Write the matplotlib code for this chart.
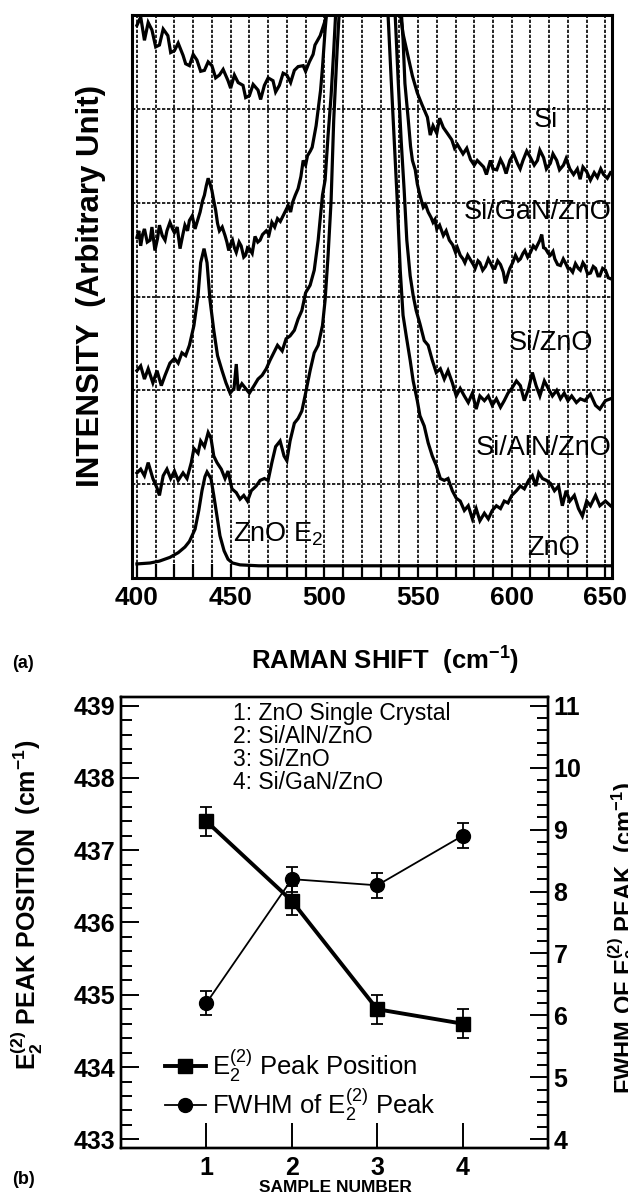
import numpy as np
import matplotlib
matplotlib.use('Agg')
import matplotlib.pyplot as plt
from matplotlib.ticker import MultipleLocator
from matplotlib.lines import Line2D

plt.rcParams['font.family'] = ['Liberation Sans', 'DejaVu Sans']
plt.rcParams['mathtext.fontset'] = 'custom'
plt.rcParams['mathtext.rm'] = 'Liberation Sans'
plt.rcParams['mathtext.it'] = 'Liberation Sans:italic'
plt.rcParams['mathtext.bf'] = 'Liberation Sans:bold'
plt.rcParams['mathtext.default'] = 'regular'

# ---------------- (a) Raman spectra ----------------
si_x = [400, 402, 404, 406, 408, 410, 412, 414, 416.5, 418, 420, 422, 424.6, 426, 428, 430,
        432, 434, 436, 438, 440, 442, 444, 446, 448.6, 450, 452, 454, 456.6, 458, 460, 462,
        464.6, 466, 468, 470, 472.6, 474, 476, 478, 480, 482, 484, 486, 488.7, 490, 492, 494,
        495, 497.8, 500.4, 502, 510, 520, 530, 537, 540.5, 542, 544, 547, 549.6, 552, 555,
        556.5, 558, 560, 561.5, 563.5, 565.6, 568, 569.5, 571, 574, 576, 578, 580, 581.6, 585,
        586.5, 588.6, 590, 592, 594, 595.5, 597, 599, 601, 603, 604.5, 606, 608, 610, 612,
        613.7, 615, 617, 618.5, 620.6, 622, 624, 625.5, 627.6, 629, 631, 633, 635, 636.5, 638,
        640, 642, 644, 645.7, 647.5, 649, 651, 652.7]
si_y = [5.89, 5.98, 5.73, 5.92, 5.84, 5.66, 5.68, 5.85, 5.78, 5.60, 5.62, 5.70, 5.57, 5.48, 5.46, 5.58,
        5.52, 5.40, 5.41, 5.50, 5.46, 5.33, 5.36, 5.42, 5.30, 5.22, 5.36, 5.28, 5.25, 5.12, 5.14, 5.26,
        5.20, 5.10, 5.25, 5.33, 5.30, 5.18, 5.25, 5.38, 5.36, 5.28, 5.41, 5.45, 5.46, 5.40, 5.50, 5.58,
        5.68, 5.78, 5.94, 6.10, 7.50, 9.00, 7.50, 6.50, 6.02, 5.80, 5.62, 5.35, 5.17, 5.05, 4.91,
        4.72, 4.82, 4.74, 4.90, 4.80, 4.74, 4.67, 4.58, 4.62, 4.52, 4.58, 4.46, 4.40, 4.45, 4.38,
        4.30, 4.45, 4.36, 4.35, 4.46, 4.40, 4.31, 4.45, 4.52, 4.42, 4.36, 4.45, 4.55, 4.48, 4.40,
        4.45, 4.56, 4.48, 4.36, 4.42, 4.52, 4.45, 4.35, 4.40, 4.47, 4.36, 4.30, 4.36, 4.25, 4.38,
        4.33, 4.24, 4.32, 4.27, 4.36, 4.30, 4.26, 4.32]

gan_x = [400, 401, 402, 403, 404, 405.5, 407, 408, 409.6, 411, 412, 413.5, 415, 416, 417.6, 419,
         420, 421.5, 423, 424.5, 425.6, 427, 428, 429.5, 431, 432.5, 433.7, 435, 436, 437, 438,
         439, 440, 441, 442, 443, 444, 445.5, 447, 448, 449, 450, 451, 452, 453, 454.5, 455.6,
         457, 458, 459, 460, 461.5, 463, 464.5, 465.7, 467, 469, 470.5, 472, 473.5, 475, 476.5,
         478, 479.5, 480.7, 482, 483, 484.5, 486, 487.5, 488.7, 490, 491, 492.5, 493.5, 494.5,
         495.6, 497, 498, 499, 500.4, 502, 510, 520, 530, 538, 541, 542, 543, 544.8, 546, 547,
         548.5, 549.6, 551, 552.8, 554, 555.4, 557, 558, 559, 560, 561.5, 563.5, 565, 566.7,
         568.5, 570, 571, 572.5, 574, 575, 576.5, 578, 579.5, 580.5, 582, 583, 584.5, 586,
         587.5, 588.6, 590, 591, 592.5, 594, 595.5, 596.6, 598, 599, 600.5, 602, 603.5, 604.6,
         606, 607, 608.5, 610, 611.5, 612.8, 614, 615, 616, 617, 618, 619.5, 620.6, 622, 623,
         624.5, 626, 627.5, 628.6, 630, 631, 632.5, 634, 635.5, 636.6, 638, 639, 640.5, 642,
         643.5, 644.7, 646, 647, 648.5, 650, 651.5, 652.7]
gan_y = [3.63, 3.70, 3.54, 3.66, 3.72, 3.58, 3.60, 3.74, 3.49, 3.62, 3.76, 3.65, 3.60, 3.70, 3.79, 3.72,
         3.68, 3.74, 3.51, 3.66, 3.76, 3.70, 3.81, 3.86, 3.72, 3.82, 3.90, 4.02, 4.08, 4.18, 4.26,
         4.20, 4.13, 4.02, 3.92, 3.78, 3.70, 3.74, 3.65, 3.58, 3.49, 3.56, 3.60, 3.52, 3.47, 3.58, 3.54,
         3.42, 3.44, 3.52, 3.51, 3.46, 3.64, 3.58, 3.60, 3.66, 3.70, 3.66, 3.79, 3.74, 3.83, 3.80,
         3.86, 3.92, 3.97, 3.90, 4.00, 4.08, 4.15, 4.28, 4.45, 4.40, 4.50, 4.55, 4.59, 4.70,
         4.82, 5.04, 5.20, 5.44, 5.84, 6.20, 7.20, 8.50, 7.00, 6.30, 6.05, 5.74, 5.27, 4.88, 4.60, 4.45,
         4.35, 4.20, 4.08, 3.95, 3.98, 3.90, 3.84, 3.79, 3.82, 3.72, 3.76, 3.65, 3.70, 3.60,
         3.55, 3.47, 3.52, 3.44, 3.40, 3.36, 3.44, 3.39, 3.34, 3.30, 3.38, 3.36, 3.28, 3.32,
         3.40, 3.36, 3.30, 3.30, 3.38, 3.34, 3.26, 3.14, 3.24, 3.30, 3.36, 3.44, 3.38, 3.40,
         3.46, 3.49, 3.42, 3.47, 3.54, 3.51, 3.56, 3.60, 3.66, 3.52, 3.51, 3.46, 3.44, 3.48, 3.40,
         3.34, 3.33, 3.40, 3.36, 3.30, 3.30, 3.26, 3.35, 3.30, 3.28, 3.36, 3.33, 3.24, 3.25,
         3.32, 3.30, 3.22, 3.22, 3.30, 3.28, 3.20, 3.19]

zno_film_x = [400, 402, 404, 406, 408.5, 410.7, 413, 415, 417.6, 420, 422, 424, 426, 428, 430.4,
              432.6, 434, 435.8, 437.4, 439, 441, 443, 445.4, 447.5, 449.7, 451.8, 453, 454, 456,
              458, 460, 462.5, 464.6, 466.8, 469, 471, 473, 475, 477.5, 479.6, 481.7, 484, 486,
              488, 490, 492.4, 494.6, 496.7, 499, 500.4, 502, 503.6, 505, 506, 510, 520, 530,
              537.8, 539.4, 541, 542.6, 544, 545.8, 547.4, 549, 551, 553.3, 555.4, 557.6, 559.7,
              561.9, 564, 566, 568.3, 570.4, 572.5, 574.7, 576.8, 579, 581, 583, 585.4, 587.5,
              589.6, 591.8, 594, 596, 598, 600, 602.5, 604.6, 606.7, 609, 611, 613, 615, 617.4,
              619.5, 621.7, 624, 626, 628, 630, 632, 634.5, 636.6, 639, 642, 644.7, 647, 650, 652.7]
zno_film_y = [2.21, 2.26, 2.12, 2.23, 2.08, 2.21, 2.05, 2.16, 2.29, 2.34, 2.29, 2.40, 2.37, 2.48, 2.69,
              3.01, 3.36, 3.51, 3.36, 2.96, 2.64, 2.37, 2.21, 2.08, 1.97, 2.02, 2.28, 2.00, 2.07,
              2.02, 1.97, 2.05, 2.12, 2.16, 2.23, 2.32, 2.40, 2.48, 2.42, 2.55, 2.58, 2.64, 2.76,
              2.85, 3.04, 3.12, 3.28, 3.60, 4.08, 4.24, 4.72, 5.14, 5.62, 6.00, 7.00, 8.50, 7.00,
              6.00, 5.30, 4.66, 4.13, 3.60, 3.22, 3.01, 2.85, 2.71, 2.53, 2.48, 2.32, 2.19,
              2.23, 2.12, 2.21, 2.08, 1.94, 2.02, 1.94, 1.87, 1.97, 1.80, 1.94, 1.89, 1.94,
              1.84, 1.91, 1.82, 1.89, 1.97, 2.02, 2.10, 2.05, 1.89, 2.02, 2.19, 2.05, 1.94, 2.10,
              2.02, 1.94, 2.00, 1.91, 1.97, 1.89, 1.94, 1.87, 1.91, 1.89, 1.96, 1.84, 1.80, 1.89, 1.91]

aln_x = [400, 402, 404, 406, 408.5, 410.7, 412, 414, 416, 418, 420, 422, 424.6, 426.7, 429, 430.4,
         432.6, 434, 436, 438, 439.5, 441, 442.7, 445, 447, 448.6, 450.7, 453, 455, 457, 459,
         461, 463.6, 465.7, 468, 470, 472, 474, 476.4, 478.5, 480, 481.7, 484, 486, 488, 490,
         492.4, 494.6, 496.7, 499, 500.4, 502, 503.6, 505, 506.8, 508, 515, 520, 528, 534,
         535.7, 537.3, 538.9, 540.5, 542, 543.7, 545.8, 547.4, 549.6, 551, 553.3, 555.4, 557.6,
         559.7, 561.9, 564, 566, 568.3, 570.4, 572.5, 574.7, 576.8, 579, 581, 583, 585.4,
         587.5, 589.6, 591.8, 594, 596, 598, 600, 602.5, 604.6, 606.7, 609, 611, 612.8, 614.4,
         616.4, 618.5, 620.6, 622.8, 625, 627, 629, 631, 633.4, 635.6, 637.7, 640, 642, 644.7,
         647, 650, 652.7]
aln_y = [1.12, 1.16, 1.09, 1.23, 1.06, 0.96, 0.88, 1.09, 1.16, 1.06, 1.14, 1.04, 1.12, 1.06, 1.23, 1.38,
         1.33, 1.46, 1.40, 1.55, 1.49, 1.30, 1.23, 1.16, 1.06, 1.14, 0.95, 0.91, 0.84, 0.88, 0.82,
         0.93, 0.98, 1.04, 1.06, 1.04, 1.23, 1.40, 1.46, 1.30, 1.25, 1.46, 1.65, 1.70, 1.78, 1.97,
         2.21, 2.40, 2.48, 2.69, 2.96, 3.44, 4.02, 4.88, 5.62, 6.05, 7.50, 8.00, 7.50, 6.00,
         5.30, 4.66, 4.02, 3.28, 2.80, 2.58, 2.32, 2.10, 1.89, 1.73, 1.62, 1.44, 1.30,
         1.20, 1.06, 1.04, 1.06, 0.93, 0.85, 0.82, 0.72, 0.77, 0.63, 0.74, 0.61, 0.69,
         0.63, 0.72, 0.77, 0.74, 0.82, 0.80, 0.88, 0.93, 0.98, 0.95, 1.04, 1.09, 0.98, 1.12,
         1.06, 1.04, 1.01, 0.93, 0.98, 0.77, 0.93, 0.82, 0.88, 0.74, 0.66, 0.82, 0.77, 0.88,
         0.77, 0.82, 0.77]

zno_x = [400, 407, 412, 417.6, 422, 425.6, 428, 431, 433, 434.7, 436.3, 437.4, 439.5, 441, 442.7,
         444.3, 446.5, 448.6, 451, 455, 465, 500, 560, 620, 652.7]
zno_y = [0.15, 0.16, 0.18, 0.22, 0.27, 0.33, 0.39, 0.52, 0.72, 0.93, 1.08, 1.13, 1.06, 0.88, 0.66,
         0.45, 0.29, 0.20, 0.16, 0.14, 0.13, 0.13, 0.13, 0.13, 0.13]

spectra = [(si_x, si_y), (gan_x, gan_y), (zno_film_x, zno_film_y), (aln_x, aln_y), (zno_x, zno_y)]
spec_labels = ['Si', 'Si/GaN/ZnO', 'Si/ZnO', 'Si/AlN/ZnO', 'ZnO']
label_pos = [(618, 4.88), (614, 3.90), (621, 2.50), (617, 1.39), (622, 0.32)]

# ---------------- (b) E2 peak position and FWHM ----------------
samples = [1, 2, 3, 4]
peak_pos = [437.4, 436.3, 434.8, 434.6]
peak_err = [0.2, 0.2, 0.2, 0.2]
fwhm = [6.2, 8.2, 8.1, 8.9]
fwhm_err = [0.2, 0.2, 0.2, 0.2]
sample_names = ['1: ZnO Single Crystal', '2: Si/AlN/ZnO', '3: Si/ZnO', '4: Si/GaN/ZnO']

W, H = 628, 1202
fig = plt.figure(figsize=(W / 100, H / 100), dpi=100)

# ===== panel (a) =====
ax = fig.add_axes([131.7 / W, 1 - 578 / H, (612 - 131.7) / W, (578 - 15) / H])
for (xs, ys) in spectra:
    ax.plot(xs, ys, color='black', lw=2.3, solid_joinstyle='miter')
for name, (lx, ly) in zip(spec_labels, label_pos):
    ax.text(lx, ly, name, fontsize=19.5, ha='center', va='center')
ax.text(451, 0.47, 'ZnO E$_2$', fontsize=19.5, ha='left', va='center')

ax.set_xlim(397.2, 653.5)
ax.set_ylim(0, 6)
ax.set_xticks(np.arange(400, 651, 50))
ax.xaxis.set_minor_locator(MultipleLocator(10))
ax.set_yticks(np.arange(1, 6))
ax.tick_params(axis='y', length=0, labelleft=False)
ax.tick_params(axis='x', which='major', direction='in', length=10, width=1.6,
               labelsize=19, pad=6)
ax.tick_params(axis='x', which='minor', direction='in', length=10, width=1.6)
for t in ax.get_xticklabels():
    t.set_fontweight('bold')
ax.grid(True, which='both', axis='x', color='black', lw=1.2, ls=(0, (2, 1)))
ax.grid(True, which='major', axis='y', color='black', lw=1.2, ls=(0, (2, 1)))
for s in ax.spines.values():
    s.set_linewidth(2.2)

fig.text(385 / W, 1 - 661 / H, r'RAMAN SHIFT  (cm$^{\mathbf{-1}}$)', fontsize=18.5,
         fontweight='bold', ha='center', va='center')
fig.text(12 / W, 1 - 664 / H, '(a)', fontsize=13, fontweight='bold', va='center')
fig.text(91 / W, 1 - 286 / H, 'INTENSITY  (Arbitrary Unit)', fontsize=22.5,
         fontweight='bold', rotation=90, ha='center', va='center')

# ===== panel (b) =====
bx = fig.add_axes([121 / W, 1 - 1148 / H, (548 - 121) / W, (1148 - 697) / H])
tx = bx.twinx()

bx.plot(samples, peak_pos, color='black', lw=2.8, marker='s', ms=10)
bx.errorbar(samples, peak_pos, yerr=peak_err, fmt='none', ecolor='black',
            elinewidth=1.3, capsize=4, capthick=1.3)
tx.plot(samples, fwhm, color='black', lw=1.3, marker='o', ms=10)
tx.errorbar(samples, fwhm, yerr=fwhm_err, fmt='none', ecolor='black',
            elinewidth=1.3, capsize=4, capthick=1.3)

bx.set_xlim(0, 5)
bx.set_ylim(432.88, 439.12)
tx.set_ylim(3.86, 11.14)
bx.set_xticks(samples)
bx.set_yticks(np.arange(433, 439.5, 1))
bx.yaxis.set_minor_locator(MultipleLocator(0.2))
tx.set_yticks(np.arange(4, 11.5, 1))
tx.yaxis.set_minor_locator(MultipleLocator(0.2))
bx.tick_params(axis='x', direction='in', length=18, width=1.4, labelsize=18, pad=6)
bx.tick_params(axis='y', which='major', direction='in', length=13, width=1.4, labelsize=18, pad=4)
bx.tick_params(axis='y', which='minor', direction='in', length=8, width=1.4)
tx.tick_params(axis='y', which='major', direction='in', length=13, width=1.4, labelsize=18, pad=4)
tx.tick_params(axis='y', which='minor', direction='in', length=8, width=1.4)
for t in bx.get_xticklabels() + bx.get_yticklabels() + tx.get_yticklabels():
    t.set_fontweight('bold')
for a in (bx, tx):
    for s in a.spines.values():
        s.set_linewidth(1.7)

tx.text(0.262, 0.99, '\n'.join(sample_names), transform=bx.transAxes, fontsize=16.5,
        va='top', ha='left', linespacing=1.0)

handles = [Line2D([], [], color='black', lw=2.8, marker='s', ms=10),
           Line2D([], [], color='black', lw=1.3, marker='o', ms=10)]
tx.legend(handles, ['E$_2^{(2)}$ Peak Position', 'FWHM of E$_2^{(2)}$ Peak'],
          loc='lower left', bbox_to_anchor=(0.06, 0.015), frameon=False, fontsize=18.5,
          handlelength=1.6, handletextpad=0.25, labelspacing=0.12, borderpad=0.2)

fig.text(335 / W, 1 - 1187 / H, 'SAMPLE NUMBER', fontsize=12.5, fontweight='bold',
         ha='center', va='center')
fig.text(12 / W, 1 - 1180 / H, '(b)', fontsize=13, fontweight='bold', va='center')
fig.text(27 / W, 1 - 905 / H, r'E$_{\mathbf{2}}^{\mathbf{(2)}}$ PEAK POSITION  (cm$^{\mathbf{-1}}$)',
         fontsize=18, fontweight='bold', rotation=90, ha='center', va='center')
fig.text(606 / W, 1 - 938 / H,
         r'FWHM OF E$_{\mathbf{2}}^{\mathbf{(2)}}$ PEAK  (cm$^{\mathbf{-1}}$)',
         fontsize=17, fontweight='bold', rotation=90, ha='left', va='center')

fig.savefig('out.png', dpi=100)
